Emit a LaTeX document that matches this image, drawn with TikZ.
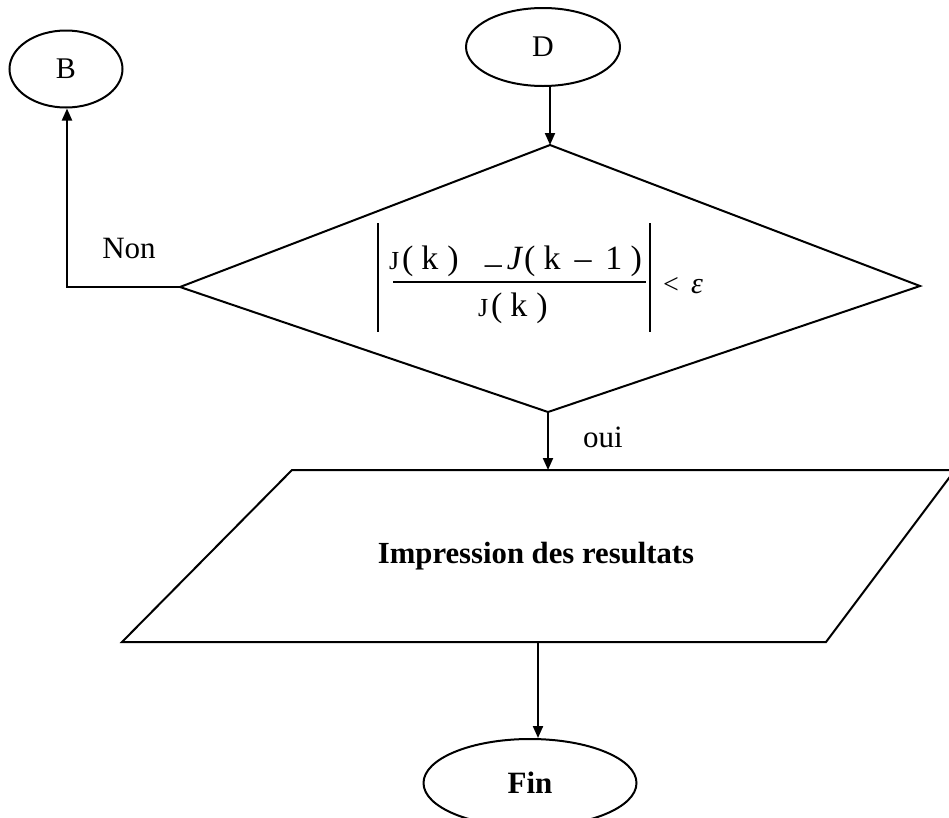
\documentclass[tikz,border=0pt]{standalone}
\usepackage{fontspec}
\setmainfont{Liberation Serif}
\usetikzlibrary{shapes.geometric,arrows.meta}
\newcommand\smallJ{{\fontsize{26}{26}\selectfont J}}
\newcommand\pk{(\hspace{8pt}k\hspace{9pt})}
\begin{document}
\begin{tikzpicture}[x=1pt,y=-1pt,
  line width=2pt, line join=miter,
  term/.style={draw,ellipse,inner sep=0pt,font=\fontsize{30}{34}\selectfont},
  lbl/.style={font=\fontsize{31}{34}\selectfont,inner sep=0pt},
  frm/.style={font=\fontsize{34}{38}\selectfont,inner sep=0pt},
  arr/.style={-{Triangle[length=12pt,width=10pt]}},
]
\useasboundingbox (0,0) rectangle (949,817);
\clip (0,0) rectangle (949,817);
% terminals
\node[term,minimum width=113pt,minimum height=77pt] (B) at (66,69) {B};
\node[term,minimum width=154pt,minimum height=78pt] (D) at (543,47) {D};
\node[term,minimum width=213pt,minimum height=88pt,font=\fontsize{31}{34}\selectfont\bfseries] (Fin) at (530,783) {Fin};
% decision
\coordinate (dt) at (550,145);
\coordinate (dl) at (180,287);
\coordinate (dr) at (920,286);
\coordinate (db) at (548,412);
\draw (dt) -- (dr) -- (db) -- (dl) -- cycle;
% formula
\node[frm,anchor=base west] (num) at (388,269) {\smallJ\hspace{3pt}\pk\hspace{26pt}\raisebox{-5pt}{–}\hspace{5pt}\textit{J}\hspace{1pt}(\hspace{8pt}k\hspace{14pt}–\hspace{14pt}1\hspace{8pt})};
\node[frm,anchor=base west] (den) at (477,316) {\smallJ\hspace{3pt}\pk};
\coordinate (fl) at (393,282);
\coordinate (fr) at (646,282);
\draw[line width=1.6pt] (fl) -- (fr);
\coordinate (bl1) at (378,223);
\coordinate (bl2) at (378,332);
\coordinate (br1) at (650,223);
\coordinate (br2) at (650,332);
\draw[line width=1.6pt] (bl1) -- (bl2) (br1) -- (br2);
\node[frm,font=\fontsize{28}{30}\selectfont] (lt) at (671,285) {<};
\node[frm,font=\fontsize{30}{30}\selectfont\itshape] (eps) at (697,287) {ε};
% labels
\node[lbl] (non) at (129,248) {Non};
\node[lbl] (oui) at (603,437) {oui};
% output parallelogram
\coordinate (pTL) at (292,470);
\coordinate (pBL) at (122,642);
\coordinate (pBR) at (826,642);
\coordinate (pTR) at (955,470);
\draw (pTL) -- (pTR) -- (pBR) -- (pBL) -- cycle;
\node[lbl,font=\fontsize{30.7}{34}\selectfont\bfseries] (imp) at (536,556) {Impression des resultats};
% connectors
\coordinate (corner) at (67,287);
\coordinate (pb) at (538,642);
\draw[arr] (D.south -| dt) -- (dt);
\draw[arr] (dl) -- (corner) -- (corner |- B.south);
\draw[arr] (db) -- (db |- pTL);
\draw[arr] (pb) -- (pb |- Fin.north);
\end{tikzpicture}
\end{document}
